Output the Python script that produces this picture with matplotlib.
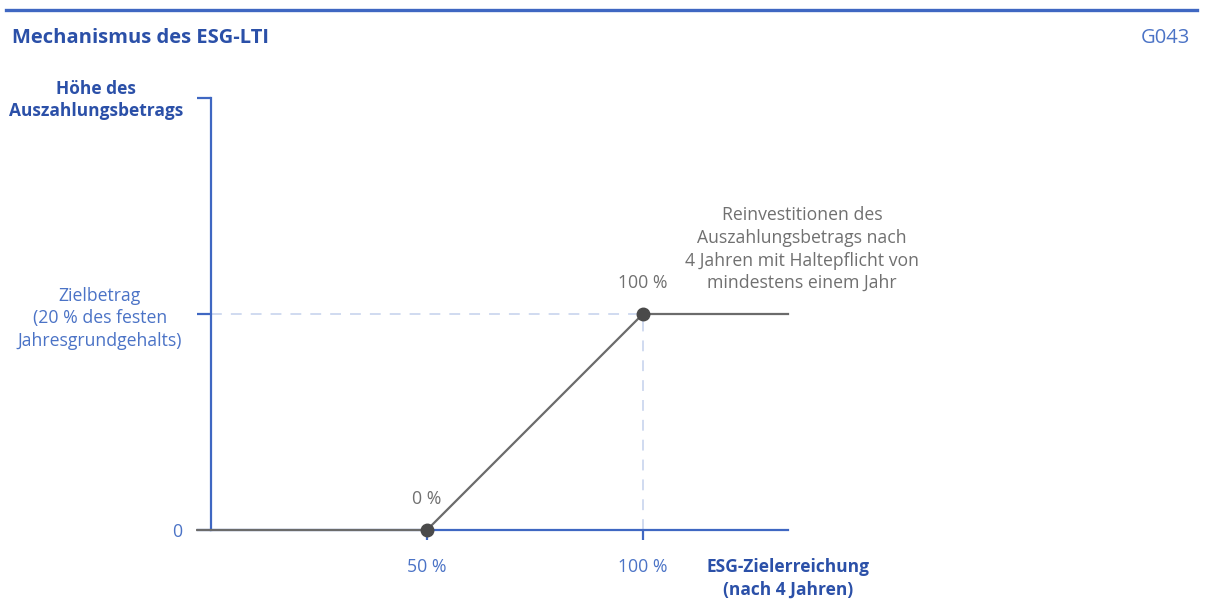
import matplotlib
matplotlib.use("Agg")
import matplotlib.pyplot as plt

# data
x_pct = [-3.2, 50, 100, 133.6]
payout = [0, 0, 1, 1]
marker_x = [50, 100]
marker_y = [0, 1]
x_ticks = [50, 100]
x_tick_labels = ["50 %", "100 %"]
y_ticks = [0, 1, 2]
y_tick_labels = ["0", "Zielbetrag\n(20 % des festen\nJahresgrundgehalts)", ""]
point_labels = ["0 %", "100 %"]

W, H = 1206, 600
BLUE_DARK = "#2b50a8"
BLUE = "#3f67c2"
BLUE_TXT = "#4b73c6"
BLUE_LIGHT = "#cdd8ef"
GRAY = "#6b6b6b"
GRAY_TXT = "#707070"
FS = 12.7
LS = 1.33

plt.rcParams['font.family'] = ['Open Sans', 'DejaVu Sans']


def fx(x):
    return x / W


def fy(y):
    return 1 - y / H


fig = plt.figure(figsize=(W / 100, H / 100), dpi=100)
ax = fig.add_axes([fx(211), fy(530), fx(788) - fx(211), fy(98) - fy(530)])
ax.set_xlim(0, 133.6)
ax.set_ylim(0, 2)

# top rule and header
fig.add_artist(plt.Line2D([fx(6), fx(1197)], [fy(10), fy(10)], color=BLUE, lw=2.4))
fig.text(fx(12), fy(38), "Mechanismus des ESG-LTI", color=BLUE_DARK, fontsize=14.5,
         fontweight='bold', va='center', ha='left')
fig.text(fx(1190), fy(38), "G043", color=BLUE_TXT, fontsize=14.5, va='center', ha='right')

# spines
for s in ['top', 'right']:
    ax.spines[s].set_visible(False)
ax.spines['left'].set_color(BLUE)
ax.spines['bottom'].set_color(BLUE)
ax.spines['left'].set_linewidth(1.6)
ax.spines['bottom'].set_linewidth(1.6)

ax.set_yticks(y_ticks)
ax.set_yticklabels(y_tick_labels, multialignment='center', linespacing=LS)
ax.set_xticks(x_ticks)
ax.set_xticklabels(x_tick_labels)
ax.tick_params(axis='y', length=10, width=1.6, color=BLUE, labelcolor=BLUE_TXT,
               labelsize=FS, pad=11)
ax.tick_params(axis='x', length=7, width=1.6, color=BLUE, labelcolor=BLUE_TXT,
               labelsize=FS, pad=13)

# guide lines to target
ax.plot([0, 100], [1, 1], color=BLUE_LIGHT, lw=1.3, ls=(0, (6, 5)))
ax.plot([100, 100], [0, 1], color=BLUE_LIGHT, lw=1.3, ls=(0, (6, 5)))

# payout curve
ax.plot(x_pct, payout, color=GRAY, lw=1.6, clip_on=False, zorder=5)
ax.plot(marker_x, marker_y, 'o', color="#4a4a4a", ms=9, clip_on=False, zorder=6)
for px_, py_, lab in zip(marker_x, marker_y, point_labels):
    ax.annotate(lab, (px_, py_), xytext=(0, 22.5), textcoords='offset points',
                ha='center', va='center', color=GRAY_TXT, fontsize=FS)

ax.text(136.8, 1.30, "Reinvestitionen des\nAuszahlungsbetrags nach\n4 Jahren mit Haltepflicht von\nmindestens einem Jahr",
        ha='center', va='center', color=GRAY_TXT, fontsize=FS, linespacing=LS)

# axis titles
fig.text(fx(96), fy(100), "Höhe des\nAuszahlungsbetrags", ha='center', va='center',
         color=BLUE_DARK, fontsize=FS - 0.2, fontweight='bold', linespacing=LS)
fig.text(fx(788), fy(578), "ESG-Zielerreichung\n(nach 4 Jahren)", ha='center', va='center',
         color=BLUE_DARK, fontsize=FS - 0.2, fontweight='bold', linespacing=LS)

fig.savefig("out.png", dpi=100)
